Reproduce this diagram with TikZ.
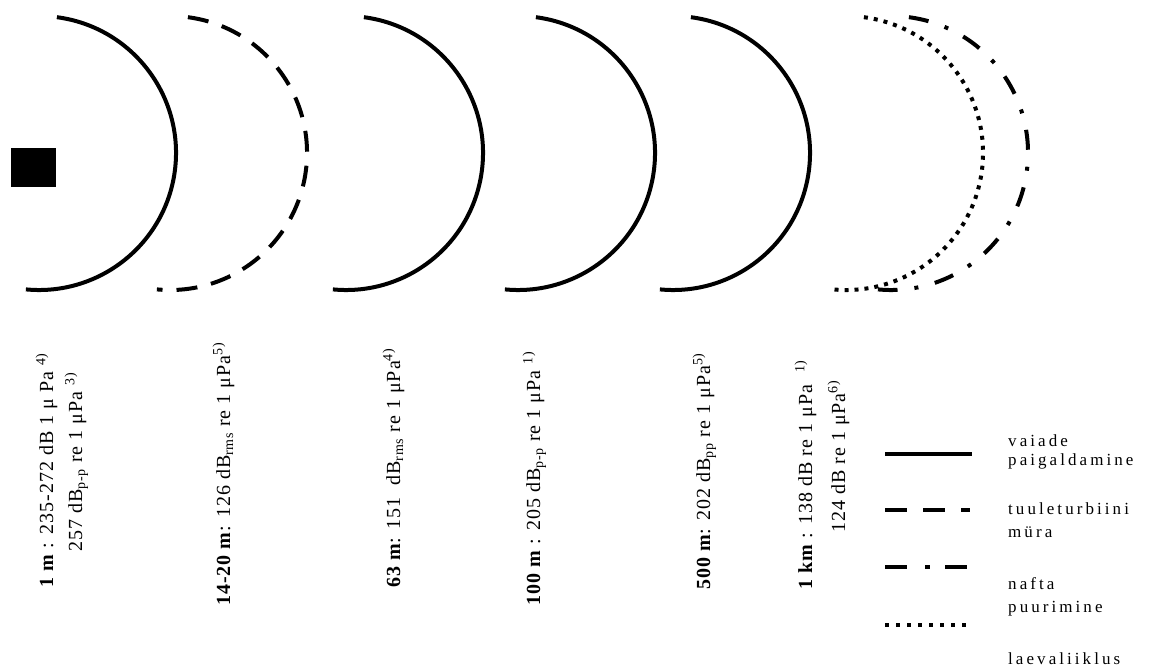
\documentclass[tikz,border=0pt]{standalone}
\usepackage{fontspec}
\setmainfont{Liberation Serif}
\newfontfamily\legfont[LetterSpace=18]{Liberation Serif}
\newfontfamily\labfont[LetterSpace=5]{Liberation Serif}
\newcommand\wavearc[2]{\draw[#2] (#1-119.1,-17.2) arc[start angle=82.5,end angle=-95.5,radius=137];}
\begin{document}
\begin{tikzpicture}[x=1pt,y=1pt,
  wave/.style={line width=4pt},
  solidwave/.style={wave},
  dashwave/.style={wave, dash pattern=on 21pt off 14pt},
  dashdotwave/.style={wave, dash pattern=on 20pt off 17pt on 4pt off 17pt},
  dotwave/.style={wave, dash pattern=on 4pt off 6pt},
  dashleg/.style={wave, dash pattern=on 22pt off 16pt},
  dashdotleg/.style={wave, dash pattern=on 22pt off 18pt on 5pt off 15pt},
  dotleg/.style={wave, dash pattern=on 4pt off 7pt},
  lab/.style={rotate=90, anchor=base west, inner sep=0pt, font=\labfont\fontsize{20}{24}\selectfont},
  leg/.style={anchor=base west, inner sep=0pt, font=\legfont\fontsize{17}{20}\selectfont}]
\useasboundingbox (0,0) rectangle (1149,-666);
% source
\fill (11,-148) rectangle (56,-187);
% wave fronts
\wavearc{176}{solidwave}
\wavearc{307}{dashwave}
\wavearc{483}{solidwave}
\wavearc{655}{solidwave}
\wavearc{810}{solidwave}
\wavearc{983}{dotwave}
\wavearc{1028}{dashdotwave}
% labels
\node[lab] (l1a) at (53,-588) {\textbf{1 m} : 235-272 dB 1 μ Pa \textsuperscript{4)}};
\node[lab] (l1b) at (82,-552) {257 dB\textsubscript{p-p} re 1 μPa \textsuperscript{3)}};
\node[lab] (l2) at (230,-606) {\textbf{14-20 m}: 126 dB\textsubscript{rms} re 1 μPa\textsuperscript{5)}};
\node[lab] (l3) at (400,-588) {\textbf{63 m}: 151\ \ dB\textsubscript{rms} re 1 μPa\textsuperscript{4)}};
\node[lab] (l4) at (540,-606) {\textbf{100 m} : 205 dB\textsubscript{p-p} re 1 μPa \textsuperscript{1)}};
\node[lab] (l5) at (710,-590) {\textbf{500 m}: 202 dB\textsubscript{pp} re 1 μPa\textsuperscript{5)}};
\node[lab] (l6a) at (812,-590) {\textbf{1 km} : 138 dB re 1 μPa \ \textsuperscript{1)}};
\node[lab] (l6b) at (845,-533) {124 dB re 1 μPa\textsuperscript{6)}};
% legend
\coordinate (s1) at (885,-454); \coordinate (e1) at (972,-454);
\coordinate (s2) at (885,-510); \coordinate (e2) at (970,-510);
\coordinate (s3) at (885,-567); \coordinate (e3) at (967,-567);
\coordinate (s4) at (885,-625); \coordinate (e4) at (967,-625);
\draw[solidwave] (s1) -- (e1);
\draw[dashleg] (s2) -- (e2);
\draw[dashdotleg] (s3) -- (e3);
\draw[dotleg] (s4) -- (e4);
\node[leg] (t1a) at (1008,-446) {vaiade};
\node[leg] (t1b) at (1008,-465) {paigaldamine};
\node[leg] (t2a) at (1008,-514) {tuuleturbiini};
\node[leg] (t2b) at (1008,-537) {müra};
\node[leg] (t3a) at (1008,-589) {nafta};
\node[leg] (t3b) at (1008,-612) {puurimine};
\node[leg] (t4) at (1008,-664) {laevaliiklus};
\end{tikzpicture}
\end{document}
